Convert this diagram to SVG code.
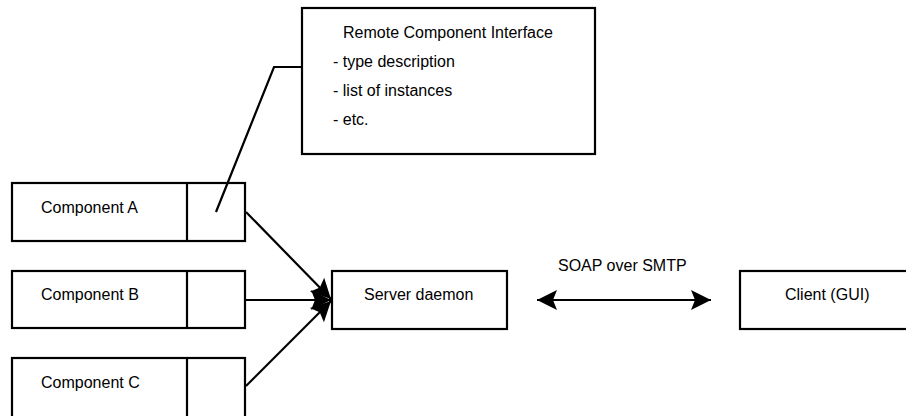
<svg xmlns="http://www.w3.org/2000/svg" width="906" height="416" viewBox="0 0 906 416">
<style>
.box{fill:#fff;stroke:#000;stroke-width:2.2}
.ln{fill:none;stroke:#000;stroke-width:2.2}
text{font-family:"Liberation Sans",Arial,sans-serif;font-size:16px;fill:#000}
</style>
<defs>
<marker id="ah" viewBox="-21 -11 22 22" markerWidth="22" markerHeight="22" refX="0" refY="0" markerUnits="userSpaceOnUse" orient="auto-start-reverse">
<path d="M0,0 L-20,-10 L-16,0 L-20,10 Z" fill="#000"/>
</marker>
</defs>
<rect width="906" height="416" fill="#fff"/>
<g id="remote">
<rect class="box" x="302" y="8" width="293" height="146"/>
<text x="343" y="38">Remote Component Interface</text>
<text x="333" y="67">- type description</text>
<text x="333" y="96">- list of instances</text>
<text x="333" y="125">- etc.</text>
</g>
<g id="compA">
<rect class="box" x="12" y="183" width="233" height="58"/>
<line class="ln" x1="187" y1="183" x2="187" y2="241"/>
<text x="41" y="213">Component A</text>
</g>
<g id="compB">
<rect class="box" x="12" y="271" width="233" height="57"/>
<line class="ln" x1="187" y1="271" x2="187" y2="328"/>
<text x="41" y="300">Component B</text>
</g>
<g id="compC">
<rect class="box" x="12" y="358" width="233" height="62"/>
<line class="ln" x1="187" y1="358" x2="187" y2="420"/>
<text x="41" y="388">Component C</text>
</g>
<g id="server">
<rect class="box" x="332" y="271" width="175" height="58"/>
<text x="364" y="300">Server daemon</text>
</g>
<g id="client">
<rect class="box" x="740" y="271" width="180" height="58"/>
<text x="785" y="300">Client (GUI)</text>
</g>
<g id="connectors">
<polyline class="ln" points="216,212 274,67 302,67"/>
<line class="ln" x1="246" y1="212" x2="331" y2="299" marker-end="url(#ah)"/>
<line class="ln" x1="246" y1="300" x2="331" y2="300" marker-end="url(#ah)"/>
<line class="ln" x1="246" y1="386" x2="331" y2="301" marker-end="url(#ah)"/>
<line class="ln" x1="537" y1="300" x2="711" y2="300" marker-start="url(#ah)" marker-end="url(#ah)"/>
<text x="558" y="271">SOAP over SMTP</text>
</g>
</svg>
